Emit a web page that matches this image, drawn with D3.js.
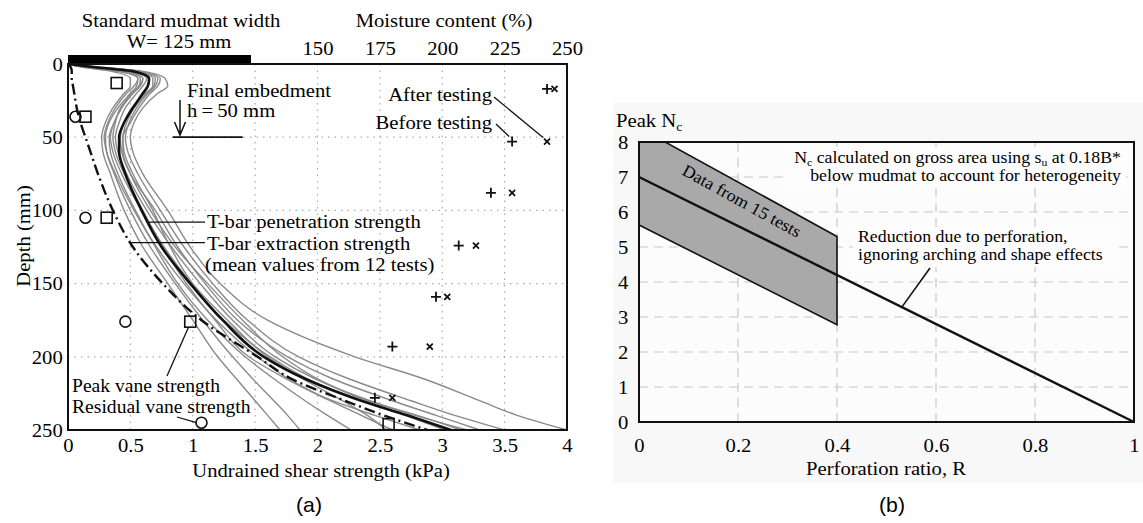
<!DOCTYPE html>
<html>
<head>
<meta charset="utf-8">
<title>Mudmat strength profiles and Nc reduction</title>
<script src="https://d3js.org/d3.v7.min.js"></script>
<style>
  body { margin: 0; background: #fff; }
  text { font-family: "Liberation Serif", "Times New Roman", serif; fill: #000; }
  .sans { font-family: "Liberation Sans", Arial, sans-serif; }
</style>
</head>
<body>
<script>
// ---- panel (a) data ----
var depthSteps = [0, 2, 5, 10, 15, 20, 30, 40, 50, 60, 75, 100, 125, 150, 175, 200, 215, 230, 240, 250];
// mean T-bar profiles (kPa)
var penMean = [0, 0.2, 0.52, 0.65, 0.64, 0.6, 0.52, 0.45, 0.41, 0.41, 0.46, 0.59, 0.75, 0.98, 1.24, 1.57, 1.9, 2.35, 2.72, 3.07];
var extMean = [0, 0.02, 0.03, 0.03, 0.04, 0.05, 0.07, 0.1, 0.14, 0.18, 0.24, 0.36, 0.52, 0.76, 1.07, 1.52, 1.79, 2.22, 2.53, 2.88];
// individual tests (grey)
var run1  = [0, 0.25, 0.6, 0.78, 0.8, 0.72, 0.6, 0.53, 0.5, 0.52, 0.6, 0.8, 0.98, 1.22, 1.6, 2.3, 2.85, 3.3, 3.6, 4.0];
var run2  = [0, 0.22, 0.56, 0.72, 0.7, 0.64, 0.55, 0.49, 0.46, 0.48, 0.56, 0.74, 0.93, 1.16, 1.44, 1.85, 2.25, 2.75, 3.1, 3.5];
var run3  = [0, 0.2, 0.52, 0.68, 0.68, 0.62, 0.51, 0.45, 0.42, 0.43, 0.5, 0.7, 0.88, 1.1, 1.36, 1.76, 2.12, 2.6, 2.95, 3.3];
var run4  = [0, 0.18, 0.5, 0.63, 0.6, 0.55, 0.46, 0.41, 0.38, 0.4, 0.47, 0.63, 0.83, 1.06, 1.32, 1.66, 1.98, 2.42, 2.78, 3.2];
var run5  = [0, 0.16, 0.46, 0.6, 0.57, 0.51, 0.43, 0.37, 0.34, 0.36, 0.43, 0.59, 0.77, 0.99, 1.25, 1.62, 1.92, 2.36, 2.7, 3.02];
var run6  = [0, 0.14, 0.43, 0.56, 0.53, 0.47, 0.38, 0.32, 0.29, 0.31, 0.38, 0.53, 0.71, 0.93, 1.19, 1.52, 1.77, 2.12, 2.46, 2.82];
var run7  = [0, 0.22, 0.58, 0.74, 0.72, 0.66, 0.57, 0.5, 0.44, 0.44, 0.5, 0.66, 0.86, 1.12, 1.4, 1.72, 2.0, 2.4, 2.8, 3.15];
var run8  = [0, 0.1, 0.35, 0.5, 0.5, 0.45, 0.36, 0.3, 0.27, 0.28, 0.34, 0.45, 0.6, 0.8, 1.0, 1.2, 1.35, 1.5, 1.6, 1.7];
var run9  = [0, 0.12, 0.4, 0.56, 0.55, 0.5, 0.4, 0.33, 0.3, 0.31, 0.37, 0.5, 0.66, 0.86, 1.08, 1.32, 1.48, 1.65, 1.76, 1.86];
var run10 = [0, 0.13, 0.42, 0.58, 0.57, 0.52, 0.43, 0.37, 0.33, 0.34, 0.4, 0.54, 0.7, 0.88, 1.12, 1.42, 1.65, 1.9, 2.08, 2.27];
var run11 = [0, 0.2, 0.55, 0.7, 0.69, 0.63, 0.53, 0.47, 0.44, 0.45, 0.52, 0.68, 0.82, 1.0, 1.28, 1.6, 1.88, 2.2, 2.4, 2.55];
var run12 = [0, 0.15, 0.45, 0.6, 0.58, 0.52, 0.42, 0.38, 0.36, 0.38, 0.45, 0.6, 0.76, 0.95, 1.18, 1.45, 1.75, 2.1, 2.35, 2.6];
var grayRuns = [run1, run2, run3, run4, run5, run6, run7, run8, run9, run10, run11, run12];

// vane tests
var peakDepth = [13, 36, 105, 176, 246];
var peakVane = [0.39, 0.14, 0.31, 0.98, 2.57];
var resDepth = [36, 105, 176, 245];
var resVane = [0.06, 0.14, 0.46, 1.07];

// moisture content (%)
var moistDepth = [17, 53, 88, 124, 159, 193, 228];
var moistBefore = [242, 228, 219.5, 206.6, 197.5, 180, 173];
var moistAfter = [245, 242, 228, 213.5, 202, 195, 180];

var suTicks = [0, 0.5, 1, 1.5, 2, 2.5, 3, 3.5, 4];
var depthTicks = [0, 50, 100, 150, 200, 250];
var moistTicks = [150, 175, 200, 225, 250];
var mudmatWidth = 125, embedDepth = 50;

// ---- panel (b) data ----
var ratioTicks = [0, 0.2, 0.4, 0.6, 0.8, 1];
var ncTicks = [0, 1, 2, 3, 4, 5, 6, 7, 8];
var lineR = [0, 1];
var lineNc = [7, 0];
var bandR = [0, 0.053, 0.4, 0.4, 0];
var bandNc = [8, 8, 5.3, 2.78, 5.63];

var SX = 1.06; // the original type is a bit wide
var FS = 19.5, FS2 = 16.8;
var W = 1143, H = 523;
var svg = d3.select("body").append("svg").attr("width", W).attr("height", H);

function label(g, x, y, s, size, anchor, rot) {
  return g.append("text")
    .attr("transform", "translate(" + x + "," + y + ")" + (rot ? " rotate(" + rot + ")" : "") + " scale(" + SX + ",1)")
    .attr("text-anchor", anchor || "start")
    .style("font-size", size + "px")
    .text(s);
}
function styleTicks(sel, size) {
  sel.select(".domain").remove();
  sel.selectAll(".tick line").remove();
  sel.selectAll(".tick text").style("font-size", size + "px")
    .style("font-family", '"Liberation Serif", serif').attr("fill", "#000")
    .attr("transform", "scale(" + SX + ",1)");
}

// ============ panel (a) ============
var x = d3.scaleLinear().domain([0, 4]).range([68, 567]);
var y = d3.scaleLinear().domain([0, 250]).range([64, 430]);
var m = d3.scaleLinear().domain([150, 250]).range([x(2), x(4)]);
var ga = svg.append("g");

// dotted grid
ga.selectAll(".vg").data(suTicks.slice(1, -1)).enter().append("line")
  .attr("x1", d => x(d)).attr("x2", d => x(d)).attr("y1", y(0)).attr("y2", y(250))
  .attr("stroke", "#aaa").attr("stroke-width", 1.2).attr("stroke-dasharray", "1.5,5");
ga.selectAll(".hg").data(depthTicks.slice(1, -1)).enter().append("line")
  .attr("x1", x(0)).attr("x2", x(4)).attr("y1", d => y(d)).attr("y2", d => y(d))
  .attr("stroke", "#aaa").attr("stroke-width", 1.2).attr("stroke-dasharray", "1.5,5");

// curves
var lineFor = function(vals) {
  return d3.line().curve(d3.curveMonotoneY)
    .x((d, i) => x(vals[i])).y(d => y(d))(depthSteps);
};
ga.selectAll(".run").data(grayRuns).enter().append("path")
  .attr("d", d => lineFor(d)).attr("fill", "none")
  .attr("stroke", "#8a8a8a").attr("stroke-width", 1.4);
ga.append("path").attr("d", lineFor(extMean)).attr("fill", "none")
  .attr("stroke", "#111").attr("stroke-width", 2.4).attr("stroke-dasharray", "11,4,2,4");
ga.append("path").attr("d", lineFor(penMean)).attr("fill", "none")
  .attr("stroke", "#111").attr("stroke-width", 2.6);

// vane markers
ga.selectAll(".sq").data(peakDepth).enter().append("rect")
  .attr("x", (d, i) => x(peakVane[i]) - 5.5).attr("y", d => y(d) - 5.5)
  .attr("width", 11).attr("height", 11).attr("fill", "none").attr("stroke", "#111").attr("stroke-width", 1.6);
ga.selectAll(".ci").data(resDepth).enter().append("circle")
  .attr("cx", (d, i) => x(resVane[i])).attr("cy", d => y(d)).attr("r", 5.5)
  .attr("fill", "none").attr("stroke", "#111").attr("stroke-width", 1.6);

// moisture markers
moistDepth.forEach(function(d, i) {
  var px = m(moistBefore[i]), py = y(d);
  ga.append("path").attr("d", "M" + (px - 5) + "," + py + "H" + (px + 5) + "M" + px + "," + (py - 5) + "V" + (py + 5))
    .attr("stroke", "#111").attr("stroke-width", 1.8);
  var qx = m(moistAfter[i]);
  ga.append("path").attr("d", "M" + (qx - 3) + "," + (py - 3) + "L" + (qx + 3) + "," + (py + 3) + "M" + (qx - 3) + "," + (py + 3) + "L" + (qx + 3) + "," + (py - 3))
    .attr("stroke", "#111").attr("stroke-width", 1.8);
});

// frame
ga.append("rect").attr("x", x(0)).attr("y", 55).attr("width", y(mudmatWidth) - y(0)).attr("height", y(0) - 55).attr("fill", "#000");
ga.append("path").attr("d", "M" + x(0) + "," + y(0) + "H" + x(4) + "V" + y(250) + "H" + x(0) + "Z")
  .attr("fill", "none").attr("stroke", "#111").attr("stroke-width", 2);

// axes
ga.append("g").attr("transform", "translate(0," + y(250) + ")")
  .call(d3.axisBottom(x).tickValues(suTicks).tickSize(0).tickPadding(8).tickFormat(d3.format("")))
  .call(s => styleTicks(s, FS));
ga.append("g").attr("transform", "translate(" + x(0) + ",0)")
  .call(d3.axisLeft(y).tickValues(depthTicks).tickSize(0).tickPadding(5))
  .call(s => styleTicks(s, FS));
ga.append("g").attr("transform", "translate(0," + y(0) + ")")
  .call(d3.axisTop(m).tickValues(moistTicks).tickSize(0).tickPadding(9))
  .call(s => styleTicks(s, FS));

label(ga, 321, 477, "Undrained shear strength (kPa)", FS, "middle");
label(ga, 30, 236, "Depth (mm)", FS, "middle", -90);
label(ga, 444, 27, "Moisture content (%)", FS, "middle");
label(ga, 181, 27, "Standard mudmat width", FS, "middle");
label(ga, 179, 48, "W= 125 mm", FS, "middle");

// final embedment
label(ga, 187, 97, "Final embedment", FS);
label(ga, 187, 117, "h\u2009=\u200950 mm", FS);
ga.append("line").attr("x1", x(0.84)).attr("x2", x(1.4)).attr("y1", y(embedDepth)).attr("y2", y(embedDepth))
  .attr("stroke", "#111").attr("stroke-width", 1.8);
ga.append("path").attr("d", "M180,100V135M174.5,122L180,135L185.5,122")
  .attr("fill", "none").attr("stroke", "#111").attr("stroke-width", 1.5);

// moisture labels
label(ga, 492, 101, "After testing", FS, "end");
label(ga, 492, 129, "Before testing", FS, "end");
ga.append("path").attr("d", "M494,97L" + (m(moistAfter[1]) - 4) + "," + (y(moistDepth[1]) - 4))
  .attr("stroke", "#111").attr("stroke-width", 1.3);
ga.append("path").attr("d", "M496,124L" + (m(moistBefore[1]) - 3) + "," + (y(moistDepth[1]) - 5))
  .attr("stroke", "#111").attr("stroke-width", 1.3);

// T-bar labels
label(ga, 207, 228, "T-bar penetration strength", FS);
label(ga, 207, 250, "T-bar extraction strength", FS);
label(ga, 205, 271, "(mean values from 12 tests)", FS);
ga.append("line").attr("x1", x(0.64)).attr("x2", 205).attr("y1", y(108)).attr("y2", y(108)).attr("stroke", "#111").attr("stroke-width", 1.3);
ga.append("line").attr("x1", x(0.5)).attr("x2", 205).attr("y1", y(122)).attr("y2", y(122)).attr("stroke", "#111").attr("stroke-width", 1.3);

// vane labels (tight pair, a little smaller)
label(ga, 72, 392, "Peak vane strength", 18.5);
label(ga, 72, 413, "Residual vane strength", 18.5);
ga.append("line").attr("x1", 167).attr("y1", 376).attr("x2", x(peakVane[3]) - 2).attr("y2", y(peakDepth[3]) + 6)
  .attr("stroke", "#111").attr("stroke-width", 1.3);
ga.append("line").attr("x1", 177).attr("y1", 417).attr("x2", x(resVane[3]) - 5).attr("y2", y(resDepth[3]))
  .attr("stroke", "#111").attr("stroke-width", 1.3);

label(ga, 309, 512, "(a)", 20, "middle").attr("class", "sans");

// ============ panel (b) ============
var r = d3.scaleLinear().domain([0, 1]).range([639, 1134]);
var n = d3.scaleLinear().domain([0, 8]).range([422, 142]);
var gb = svg.append("g");

gb.append("rect").attr("x", 613).attr("y", 103).attr("width", W - 613).attr("height", 380).attr("fill", "#f8f8f8");
gb.append("rect").attr("x", r(0)).attr("y", n(8)).attr("width", r(1) - r(0)).attr("height", n(0) - n(8)).attr("fill", "#fcfcfc");

gb.selectAll(".vg").data(ratioTicks.slice(1, -1)).enter().append("line")
  .attr("x1", d => r(d)).attr("x2", d => r(d)).attr("y1", n(0)).attr("y2", n(8))
  .attr("stroke", "#c8c8c8").attr("stroke-width", 1.2).attr("stroke-dasharray", "9,6");
gb.selectAll(".hg").data(ncTicks.slice(1, -1)).enter().append("line")
  .attr("x1", r(0)).attr("x2", r(1)).attr("y1", d => n(d)).attr("y2", d => n(d))
  .attr("stroke", "#c8c8c8").attr("stroke-width", 1.2).attr("stroke-dasharray", "9,6");

// text boxes hide grid behind annotations
gb.append("rect").attr("x", 788).attr("y", 147).attr("width", 338).attr("height", 40).attr("fill", "#fdfdfd");
gb.append("rect").attr("x", 853).attr("y", 227).attr("width", 262).attr("height", 40).attr("fill", "#fdfdfd");

// band
gb.append("path")
  .attr("d", d3.line().x((d, i) => r(bandR[i])).y(d => n(d))(bandNc) + "Z")
  .attr("fill", "#a9a9a9").attr("stroke", "#111").attr("stroke-width", 1.6);
gb.append("path")
  .attr("d", d3.line().x((d, i) => r(lineR[i])).y(d => n(d))(lineNc))
  .attr("stroke", "#111").attr("stroke-width", 2.4).attr("fill", "none");

gb.append("rect").attr("x", r(0)).attr("y", n(8)).attr("width", r(1) - r(0)).attr("height", n(0) - n(8))
  .attr("fill", "none").attr("stroke", "#111").attr("stroke-width", 2);

gb.append("g").attr("transform", "translate(0," + n(0) + ")")
  .call(d3.axisBottom(r).tickValues(ratioTicks).tickSize(0).tickPadding(16).tickFormat(d3.format("")))
  .call(s => styleTicks(s, FS));
gb.append("g").attr("transform", "translate(" + r(0) + ",0)")
  .call(d3.axisLeft(n).tickValues(ncTicks).tickSize(0).tickPadding(10))
  .call(s => styleTicks(s, FS));

label(gb, 886, 475, "Perforation ratio, R", FS, "middle");
var pk = label(gb, 616, 127, "Peak N", FS);
pk.append("tspan").attr("dy", 4).style("font-size", "13px").text("c");

var ang = Math.atan2(n(5.3) - n(8), r(0.4) - r(0.053)) * 180 / Math.PI;
label(gb, 739, 206, "Data from 15 tests", 17, "middle", ang);

var t1 = gb.append("text").attr("transform", "translate(1121,163) scale(" + SX + ",1)")
  .attr("text-anchor", "end").style("font-size", FS2 + "px");
t1.append("tspan").text("N");
t1.append("tspan").attr("dy", 3).style("font-size", "11px").text("c");
t1.append("tspan").attr("dy", -3).text(" calculated on gross area using s");
t1.append("tspan").attr("dy", 3).style("font-size", "11px").text("u");
t1.append("tspan").attr("dy", -3).text(" at 0.18B*");
label(gb, 1121, 181, "below mudmat to account for heterogeneity", FS2, "end");

label(gb, 858, 242, "Reduction due to perforation,", FS2);
label(gb, 858, 260, "ignoring arching and shape effects", FS2);
gb.append("line").attr("x1", r(0.531)).attr("y1", n(7 * (1 - 0.531))).attr("x2", 930).attr("y2", 268)
  .attr("stroke", "#111").attr("stroke-width", 1.6);

label(gb, 892, 512, "(b)", 20, "middle").attr("class", "sans");
</script>
</body>
</html>
